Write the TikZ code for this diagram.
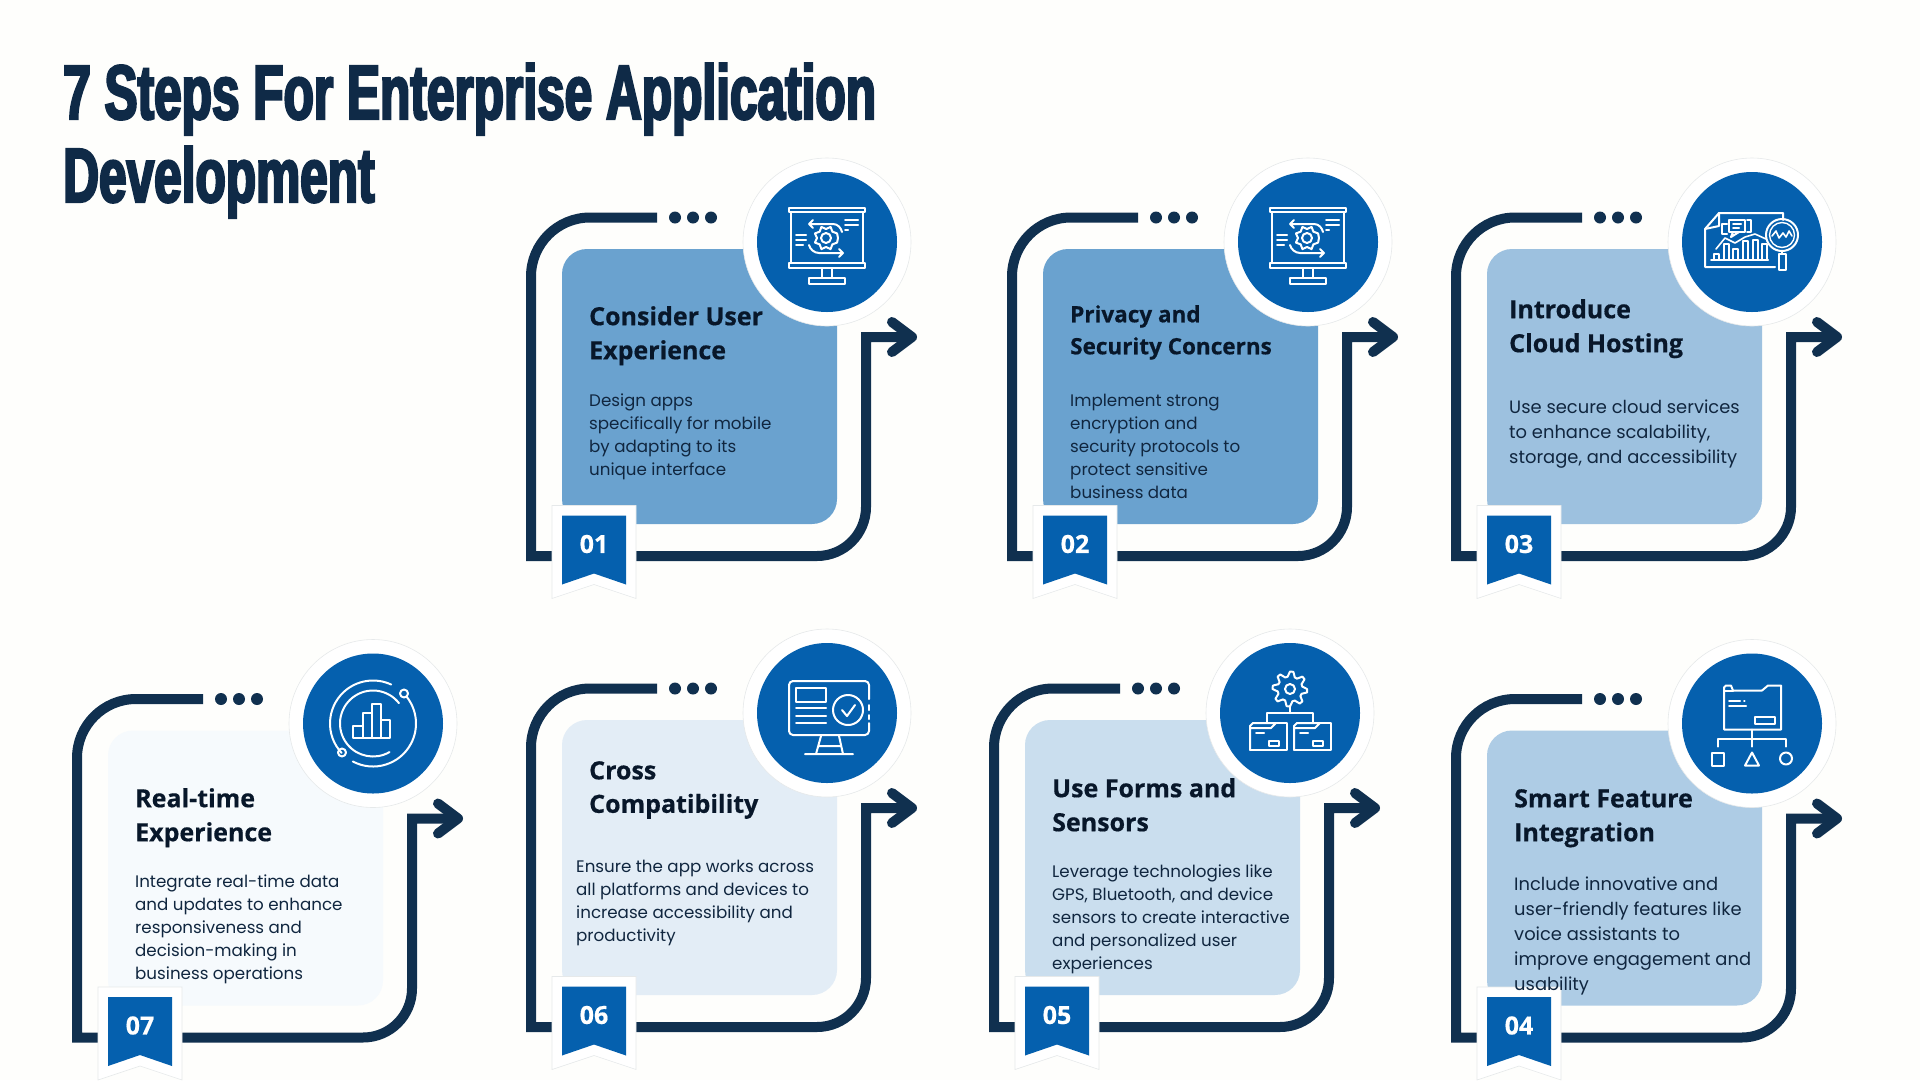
\documentclass[tikz,border=0pt]{standalone}
\usepackage{fontspec}
\setmainfont{Poppins}
\newfontfamily\titlefont[FakeStretch=0.644,FakeBold=3]{Liberation Sans}
\newfontfamily\headfont[FakeBold=0.5]{Open Sans}
\usetikzlibrary{calc}
\definecolor{bgc}{HTML}{FEFEFC}
\definecolor{navy}{HTML}{10304F}
\definecolor{titlec}{HTML}{0F2A47}
\definecolor{headc}{HTML}{08172A}
\definecolor{bodyc}{HTML}{10263F}
\definecolor{iconblue}{HTML}{0560AE}
\definecolor{edgec}{HTML}{E6E9EA}
\definecolor{pa}{HTML}{6AA2CF}
\definecolor{pb}{HTML}{9DC1DF}
\definecolor{pc}{HTML}{AECCE5}
\definecolor{pd}{HTML}{CADEEE}
\definecolor{pe}{HTML}{E3EDF6}
\definecolor{pf}{HTML}{F6FAFD}
\tikzset{
  framepath/.style={draw=navy,line width=10pt},
  panelbox/.style={rectangle,rounded corners=25pt,minimum width=275pt,minimum height=275pt,inner sep=0pt},
  halo/.style={circle,fill=white,draw=edgec,line width=0.6pt,minimum size=168pt,inner sep=0pt},
  disc/.style={circle,fill=iconblue,minimum size=140pt,inner sep=0pt},
  numtext/.style={text=white,inner sep=0pt,font=\headfont\bfseries\fontsize{25}{25}\selectfont},
  headtext/.style={anchor=north west,inner sep=0pt,align=left,text=headc,font=\headfont\bfseries\fontsize{25}{34}\selectfont},
  bodytext/.style={anchor=north west,inner sep=0pt,align=left,text=bodyc,font=\fontsize{16.7}{23}\selectfont},
  bodylarge/.style={bodytext,font=\fontsize{17.9}{25}\selectfont},
  ic/.style={draw=white,line width=2pt,line join=round,line cap=round},
  iconmon/.pic={
    \draw[ic] (-38,-34) rectangle (38,-30);
    \draw[ic] (-36,-30) -- (-36,21) (36,-30) -- (36,21);
    \draw[ic] (-38,21) rectangle (38,26);
    \draw[ic] (-5,26) -- (-5,36) (5,26) -- (5,36);
    \draw[ic] (-18,36) rectangle (18,42);
    \draw[ic] (-1,-4) circle (5);
    \draw[ic] (11,-4) \foreach \a in {22.5,45,...,337.5} { -- ($(-1,-4)+(\a:{mod(round(\a/22.5),2)==1?12:9})$) } -- cycle;
    \draw[ic] (-14,-22) -- (-18,-18) -- (-14,-14) (-18,-18) -- (6,-18) .. controls (11,-18) and (14,-14) .. (15,-10);
    \draw[ic] (12,7) -- (16,11) -- (12,15) (16,11) -- (-8,11) .. controls (-13,11) and (-17,7) .. (-18,3);
    \draw[ic] (18,-22) -- (31,-22) (18,-17) -- (31,-17) (18,-12) -- (21,-12);
    \draw[ic] (-31,-7) -- (-21,-7) (-31,-2) -- (-21,-2) (-31,3) -- (-24,3);
  },
  iconchart/.pic={
    \draw[ic] (-47,-13) -- (-33,-29) -- (31,-29) -- (31,-22);
    \draw[ic] (-33,-29) -- (-33,-16) -- (-47,-13) -- (-47,25) -- (23,25);
    \draw[ic] (-23,-22) rectangle (-7,-10);
    \draw[ic] (-19,-10) -- (-21,-5) -- (-13,-10);
    \draw[ic] (-25,-18) -- (-30,-18) -- (-30,-8) -- (-25,-8);
    \draw[ic] (-5,-22) -- (-1,-22) -- (-1,-10) -- (-5,-10);
    \draw[ic] (-19,-18) -- (-11,-18) (-19,-14) -- (-13,-14);
    \foreach \x/\t in {-38/12,-28/2,-19/7,-9/-1,1/-2,10/2}{\draw[ic,line width=1.6pt] (\x,18) -- (\x,\t) -- ++(5,0) -- (\x+5,18);}
    \draw[ic] (-41,18) -- (16,18);
    \draw[ic,line width=1.6pt] (-36,7) -- (-27,-4) -- (-17,1) -- (-7,-5) -- (3,-8) -- (14,-3);
    \draw[ic] (30,-7) circle (16);
    \draw[ic,line width=1.4pt] (30,-7) circle (12.5);
    \draw[ic,line width=1.6pt] (20,-6) -- (24,-11) -- (27,-4) -- (31,-9) -- (34,-5) -- (37,-11) -- (40,-6);
    \draw[ic] (27,12) rectangle (34,28);
    \draw[ic] (30,9) -- (30,12);
  },
  iconorbit/.pic={
    \draw[ic] (-223:43) arc (-223:-65:43);
    \draw[ic] (118:43) arc (118:-39:43);
    \draw[ic] (-38:33) arc (-38:-300:33);
    \fill[white] (-46:33) circle (1.3);
    \draw[ic] (31,-30) circle (4);
    \draw[ic] (-31,29) circle (4);
    \draw[ic] (-20,14) -- (-20,2) -- (-10,2) -- (-10,-11) -- (-1,-11) -- (-1,-20) -- (8,-20) -- (8,-4) -- (17,-4) -- (17,14) -- cycle;
    \draw[ic] (-10,2) -- (-10,14) (-1,-11) -- (-1,14) (8,-4) -- (8,14);
  },
  iconscreen/.pic={
    \draw[ic] (42,-14) -- (42,-28) arc (0:-90:4) -- (-34,-32) arc (-90:-180:4) -- (-38,18) arc (180:90:4) -- (38,22) arc (90:0:4) -- (42,10);
    \draw[ic] (42,-8) -- (42,-3) (42,2) -- (42,6);
    \draw[ic] (-31,-25) rectangle (-1,-11);
    \draw[ic] (-31,-5) -- (-1,-5) (-31,3) -- (-1,3) (-31,10) -- (-1,10);
    \draw[ic] (21,-3) circle (15);
    \draw[ic] (15,-3) -- (20,3) -- (28,-8);
    \draw[ic] (-6,23) -- (-11,41) (12,23) -- (16,41) (-9,33) -- (14,33) (-22,41) -- (26,41);
  },
  iconfolders/.pic={
    \draw[ic] (0,-24) circle (5);
    \draw[ic] (17,-24) \foreach \a in {11.25,22.5,...,348.75} { -- ($(0,-24)+(\a:{mod(round(\a/11.25),4)<2?17.5:12.5})$) } -- cycle;
    \draw[ic] (0,-7) -- (0,0) (-23,10) -- (-23,0) -- (23,0) -- (23,10);
    \foreach \dx in {0,44}{
      \draw[ic] (\dx-40,37) -- (\dx-40,13) -- (\dx-37,10) -- (\dx-14,10) -- (\dx-19,15) -- (\dx-40,15);
      \draw[ic] (\dx-14,10) -- (\dx-3,10) -- (\dx-3,37) -- (\dx-40,37);
      \draw[ic] (\dx-34,20) -- (\dx-26,20);
      \draw[ic] (\dx-21,28) rectangle (\dx-11,33);
    }
  },
  icontree/.pic={
    \draw[ic] (-28,-36) -- (-26,-38) -- (-21,-38) -- (-19,-33) -- (10,-33) -- (16,-38) -- (29,-38) -- (29,6) -- (-28,6) -- cycle;
    \draw[ic] (-28,-33) -- (-19,-33);
    \draw[ic] (3,-7) rectangle (23,0);
    \draw[ic] (-23,-23) -- (-12,-23) (-23,-18) -- (-6,-18) (-8,-23) -- (-7.5,-23);
    \draw[ic] (0,6) -- (0,23) (-34,23) -- (-34,15) -- (34,15) -- (34,23);
    \draw[ic] (-40,29) rectangle (-28,42);
    \draw[ic] (0,29) -- (7,42) -- (-7,42) -- cycle;
    \draw[ic] (34,35) circle (6);
  },
}
% #1 dx, #2 dy, #3 panel colour, #4 number, #5 icon pic
\newcommand\stepcard[5]{%
  \begin{scope}[shift={(#1,#2)}]
    \coordinate (fs#4) at (657,217.5);
    \coordinate (fe#4) at (912,337);
    \draw[framepath] (fs#4) -- (590,217.5) arc (-90:-180:59) -- (531,556) -- (817,556) arc (90:0:49) -- (866,337) -- (fe#4);
    \draw[navy,line width=10pt,line cap=round,line join=round] (892,322) -- (fe#4) -- (892,352);
    \foreach \x in {675,693,711}{\fill[navy] (\x,217.5) circle (6);}
    \node[panelbox,fill=#3] (panel#4) at (699.5,386.5) {};
    \node[halo] (halo#4) at (827,242) {};
    \node[disc] (disc#4) at (827,242) {};
    \pic at (disc#4) {#5};
    \filldraw[fill=white,draw=edgec,line width=0.6pt] (552,505.5) -- (636,505.5) -- (636,598.5) -- (594,584.5) -- (552,598.5) -- cycle;
    \fill[iconblue] (562,515.5) -- (626,515.5) -- (626,584.5) -- (594,573.5) -- (562,584.5) -- cycle;
    \node[numtext] (num#4) at (594,544) {#4};
  \end{scope}}
\begin{document}
\begin{tikzpicture}[x=1pt,y=-1pt]
\useasboundingbox (0,0) rectangle (1920,1080);
\fill[bgc] (0,0) rectangle (1920,1080);
\node[anchor=base west,inner sep=0pt,text=titlec,font=\titlefont\bfseries\fontsize{77}{83}\selectfont] (t1) at (63,119) {7 Steps For Enterprise Application};
\node[anchor=base west,inner sep=0pt,text=titlec,font=\titlefont\bfseries\fontsize{77}{83}\selectfont] (t2) at (63,202) {Development};
\stepcard{0}{0}{pa}{01}{iconmon}
\stepcard{481}{0}{pa}{02}{iconmon}
\stepcard{925}{0}{pb}{03}{iconchart}
\stepcard{925}{481.5}{pc}{04}{icontree}
\stepcard{463}{471}{pd}{05}{iconfolders}
\stepcard{0}{471}{pe}{06}{iconscreen}
\stepcard{-454}{481.5}{pf}{07}{iconorbit}
\node[headtext] (h1) at (589,306) {Consider User\\Experience};
\node[bodytext] (b1) at (589,394) {Design apps\\specifically for mobile\\by adapting to its\\unique interface};
\node[headtext,font=\headfont\bfseries\fontsize{22.5}{32}\selectfont] (h2) at (1070,305) {Privacy and\\Security Concerns};
\node[bodytext] (b2) at (1070,394) {Implement strong\\encryption and\\security protocols to\\protect sensitive\\business data};
\node[headtext] (h3) at (1509,299) {Introduce\\Cloud Hosting};
\node[bodylarge] (b3) at (1509,400) {Use secure cloud services\\to enhance scalability,\\storage, and accessibility};
\node[headtext] (h4) at (1514,789) {Smart Feature\\Integration};
\node[bodylarge] (b4) at (1514,877) {Include innovative and\\user-friendly features like\\voice assistants to\\improve engagement and\\usability};
\node[headtext] (h5) at (1052,778) {Use Forms and\\Sensors};
\node[bodytext] (b5) at (1052,865) {Leverage technologies like\\GPS, Bluetooth, and device\\sensors to create interactive\\and personalized user\\experiences};
\node[headtext,font=\headfont\bfseries\fontsize{25}{33.5}\selectfont] (h6) at (589,761) {Cross\\Compatibility};
\node[bodytext] (b6) at (576,860) {Ensure the app works across\\all platforms and devices to\\increase accessibility and\\productivity};
\node[headtext] (h7) at (135,788) {Real-time\\Experience};
\node[bodytext] (b7) at (135,875) {Integrate real-time data\\and updates to enhance\\responsiveness and\\decision-making in\\business operations};
\end{tikzpicture}
\end{document}
